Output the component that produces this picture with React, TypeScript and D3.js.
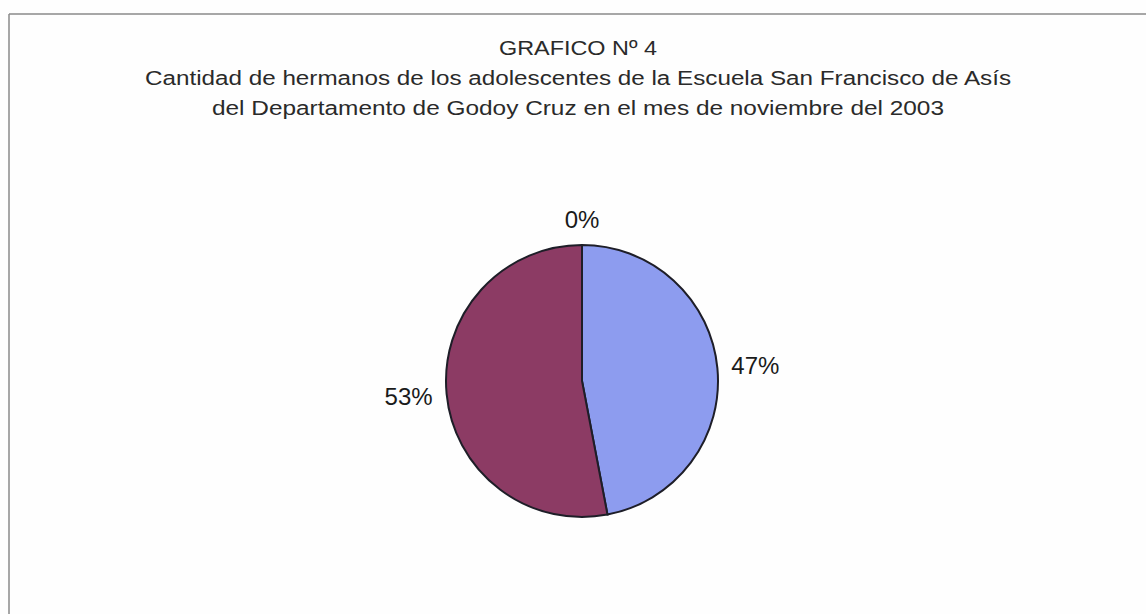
import React from "react";
import * as d3 from "d3";

const categories = ["Categoría 1", "Categoría 2", "Categoría 3"];
const percents = [47, 53, 0];
const sliceColors = ["#8d9cef", "#8c3b64", "#ffffcc"];
const titleLines = [
  "GRAFICO Nº 4",
  "Cantidad de hermanos de los adolescentes de la Escuela San Francisco de Asís",
  "del Departamento de Godoy Cruz en el mes de noviembre del 2003",
];

const W = 1146;
const H = 614;

export default function App() {
  const cx = 582;
  const cy = 381;
  const r = 136;
  const pie = d3
    .pie<number>()
    .sort(null)
    .value((d) => d)
    .startAngle(0)
    .endAngle(2 * Math.PI);
  const arcs = pie(percents);
  const arcGen = d3.arc<d3.PieArcDatum<number>>().innerRadius(0).outerRadius(r);

  const fs = 24;
  const labelR = 150;
  const boxH = 24;

  const titleSpecs = [
    { y: 55, len: 158 },
    { y: 85, len: 866 },
    { y: 115, len: 732 },
  ];

  return (
    <svg
      width={W}
      height={H}
      style={{ position: "absolute", left: 0, top: 0, display: "block", background: "#fefefe" }}
      fontFamily="Liberation Sans, Arial, sans-serif"
    >
      <rect x={0} y={0} width={W} height={H} fill="#fefefe" />
      <line x1={9} y1={14} x2={W} y2={14} stroke="#8a8a8a" strokeWidth={1.5} />
      <line x1={9} y1={14} x2={9} y2={H} stroke="#8a8a8a" strokeWidth={1.5} />

      {titleLines.map((t, i) => (
        <text
          key={i}
          x={578}
          y={titleSpecs[i].y}
          textAnchor="middle"
          fontSize={20}
          fill="#2a2a2a"
          textLength={titleSpecs[i].len}
          lengthAdjust="spacingAndGlyphs"
        >
          {t}
        </text>
      ))}

      <g transform={`translate(${cx},${cy})`}>
        {arcs.map((a, i) => (
          <path
            key={categories[i]}
            d={arcGen(a) || ""}
            fill={sliceColors[i]}
            stroke="#1e1e28"
            strokeWidth={a.endAngle - a.startAngle > 0 ? 2 : 0}
          />
        ))}
      </g>

      {arcs.map((a, i) => {
        const mid = (a.startAngle + a.endAngle) / 2;
        const s = Math.sin(mid);
        const c = Math.cos(mid);
        const px = cx + labelR * s;
        const py = cy - labelR * c;
        const centerY = py - (boxH / 2) * c;
        const anchor = Math.abs(s) < 0.3 ? "middle" : s > 0 ? "start" : "end";
        return (
          <text
            key={"l" + i}
            x={px}
            y={centerY + fs * 0.36}
            textAnchor={anchor}
            fontSize={fs}
            fill="#1a1a1a"
          >
            {`${percents[i]}%`}
          </text>
        );
      })}
    </svg>
  );
}
